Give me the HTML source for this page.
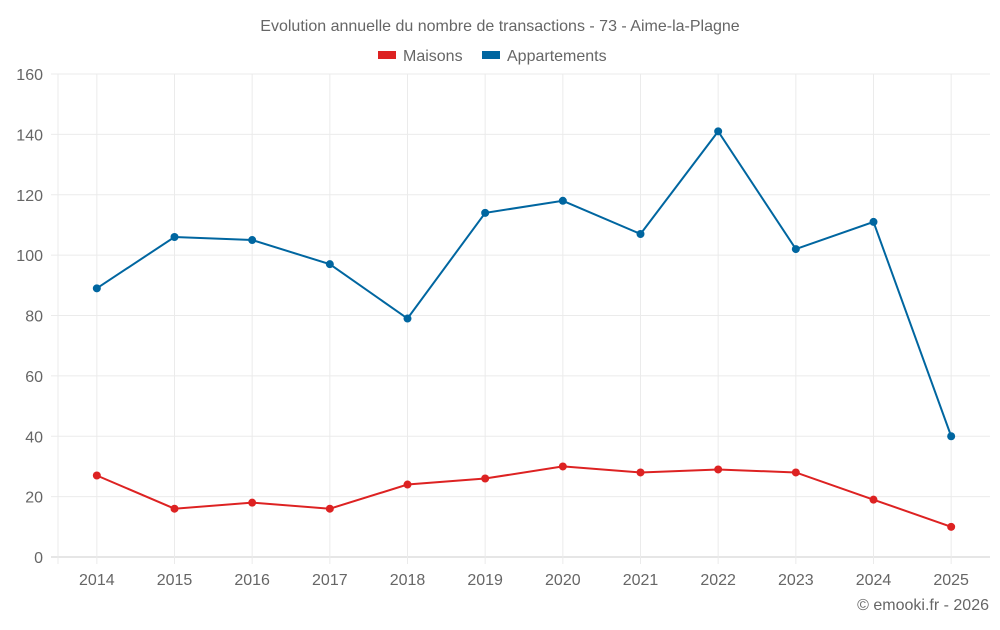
<!DOCTYPE html>
<html><head><meta charset="utf-8"><style>
body{margin:0;background:#fff;font-family:"Liberation Sans",sans-serif;}
svg text{font-family:"Liberation Sans",sans-serif;fill:#666;}
</style></head><body>
<svg id="chart" width="1000" height="625">
<text x="500" y="31" text-anchor="middle" font-size="16">Evolution annuelle du nombre de transactions - 73 - Aime-la-Plagne</text>
<g>
<g><rect x="378" y="51" width="18" height="8" fill="#dd2222"/><text x="403" y="61" font-size="16">Maisons</text></g>
<g><rect x="482" y="51" width="18" height="8" fill="#0066a0"/><text x="507" y="61" font-size="16">Appartements</text></g>
</g>
<g id="grid"></g><g id="axes"></g><g id="series"></g>
<text x="989" y="610" text-anchor="end" font-size="16">© emooki.fr - 2026</text>
</svg>
<script>
const categories=["2014","2015","2016","2017","2018","2019","2020","2021","2022","2023","2024","2025"];
const maisons=[27,16,18,16,24,26,30,28,29,28,19,10];
const appartements=[89,106,105,97,79,114,118,107,141,102,111,40];
const yTicks=[0,20,40,60,80,100,120,140,160];
const NS="http://www.w3.org/2000/svg";
const L=58,R=990,T=74,B=557,yMax=160;
const bw=(R-L)/categories.length;
const x=i=>L+bw*(i+0.5);
const y=v=>B-(v/yMax)*(B-T);
function mk(t,a,p){const e=document.createElementNS(NS,t);for(const k in a)e.setAttribute(k,a[k]);p.appendChild(e);return e;}
const grid=document.getElementById('grid'),axes=document.getElementById('axes'),ser=document.getElementById('series');
yTicks.forEach(v=>{
 const g=mk('line',{x1:L-7,x2:R,y1:y(v),y2:y(v),stroke:v===0?'#ccc':'#ebebeb'},grid);
 
 
 const t=mk('text',{x:L-15,y:y(v)+6,'text-anchor':'end','font-size':16},axes);t.textContent=v;
 
 
});
const le=mk('line',{x1:L,x2:L,y1:T,y2:B+7,stroke:'#ebebeb'},grid);


categories.forEach((c,i)=>{
 const l=mk('line',{x1:x(i),x2:x(i),y1:T,y2:B+7,stroke:'#ebebeb'},grid);
 
 
 const t=mk('text',{x:x(i),y:585,'text-anchor':'middle','font-size':16},axes);t.textContent=c;
 
 
});
function draw(data,color,name){
 const p=mk('polyline',{points:data.map((v,i)=>x(i)+','+y(v)).join(' '),fill:'none',stroke:color,'stroke-width':2},ser);
 
 
 data.forEach((v,i)=>{
  const c=mk('circle',{cx:x(i),cy:y(v),r:4,fill:color},ser);
  
  
 });
}
draw(appartements,'#0066a0','appartements');
draw(maisons,'#dd2222','maisons');
</script>
</body></html>
